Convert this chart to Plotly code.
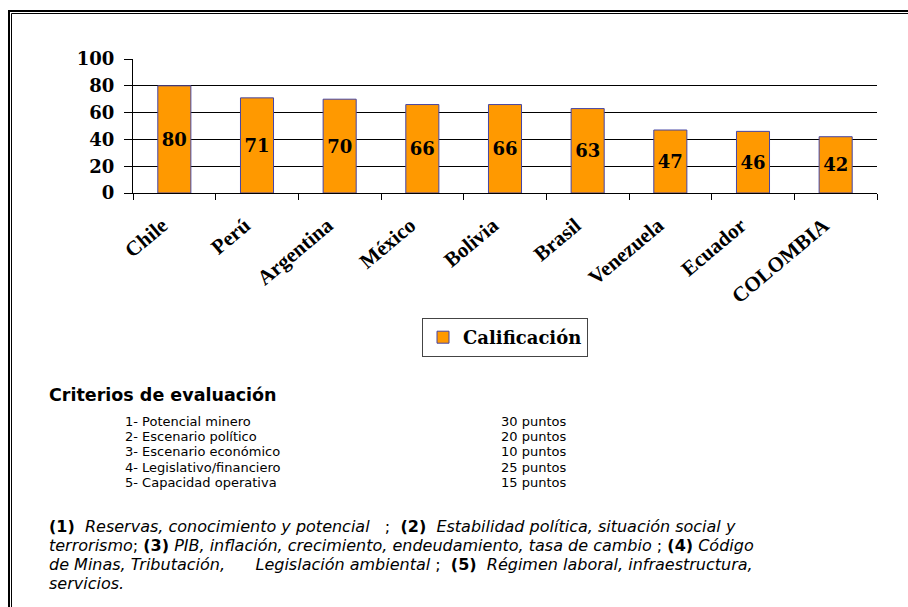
import plotly.graph_objects as go

# Country scores
paises = ["Chile", "Perú", "Argentina", "México", "Bolivia", "Brasil",
          "Venezuela", "Ecuador", "COLOMBIA"]
calificacion = [80, 71, 70, 66, 66, 63, 47, 46, 42]
y_ticks = [0, 20, 40, 60, 80, 100]

# Evaluation criteria and their weights
criterios = ["1- Potencial minero", "2- Escenario político", "3- Escenario económico",
             "4- Legislativo/financiero", "5- Capacidad operativa"]
puntos = ["30 puntos", "20 puntos", "10 puntos", "25 puntos", "15 puntos"]

NB = "\u00a0"
notas = [
    "<b>(1)</b>" + NB * 2 + "<i>Reservas, conocimiento y potencial</i>" + NB * 3 + ";" + NB * 2
    + "<b>(2)</b>" + NB * 2 + "<i>Estabilidad política, situación social y</i>",
    "<i>terrorismo</i>;" + NB + "<b>(3)</b>" + NB + "<i>PIB, inflación, crecimiento, endeudamiento, tasa de cambio</i>"
    + NB + ";" + NB + "<b>(4)</b>" + NB + "<i>Código</i>",
    "<i>de Minas, Tributación," + NB * 6 + "Legislación ambiental</i>" + NB + ";" + NB * 2
    + "<b>(5)</b>" + NB * 2 + "<i>Régimen laboral, infraestructura,</i>",
    "<i>servicios.</i>",
]

W, H = 908, 607
L, R, T, B = 133, 877, 59, 193  # plot area in pixels


def px(x):
    return (x - L) / (R - L)


def py(y):
    return (B - y) / (B - T)


def block(lines, size):
    # multi-line text: glyph size set per line, line pitch set by the base font
    return "<br>".join('<span style="font-size:%spx">%s</span>' % (size, s) for s in lines)


fig = go.Figure()
fig.add_trace(go.Bar(
    x=paises, y=calificacion, name="Calificación",
    marker=dict(color="#FF9900", line=dict(color="#4545A5", width=1)),
    texttemplate="%{y}", textposition="inside", insidetextanchor="middle",
    textangle=0,
    textfont=dict(family="DejaVu Serif", size=18, color="black", weight="bold"),
))

shapes = []
# Double frame around the whole sheet
shapes.append(dict(type="line", xref="paper", yref="paper", x0=px(8), x1=px(W + 5),
                   y0=py(11), y1=py(11), line=dict(color="black", width=2)))
shapes.append(dict(type="line", xref="paper", yref="paper", x0=px(11.5), x1=px(W + 5),
                   y0=py(13.5), y1=py(13.5), line=dict(color="black", width=1)))
shapes.append(dict(type="line", xref="paper", yref="paper", x0=px(9), x1=px(9),
                   y0=py(10), y1=py(H + 5), line=dict(color="black", width=2)))
shapes.append(dict(type="line", xref="paper", yref="paper", x0=px(11.5), x1=px(11.5),
                   y0=py(13.5), y1=py(H + 5), line=dict(color="black", width=1)))

SANS = "DejaVu Sans"
annotations = [
    dict(xref="paper", yref="paper", x=px(47), y=py(395),
         xanchor="left", yanchor="middle", showarrow=False,
         text="<b>Criterios de evaluación</b>",
         font=dict(family=SANS, size=17.5, color="black")),
    dict(xref="paper", yref="paper", x=px(123), y=py(452),
         xanchor="left", yanchor="middle", showarrow=False, align="left",
         text=block(criterios, 13), font=dict(family=SANS, size=11.7, color="black")),
    dict(xref="paper", yref="paper", x=px(499), y=py(452),
         xanchor="left", yanchor="middle", showarrow=False, align="left",
         text=block(puntos, 13), font=dict(family=SANS, size=11.7, color="black")),
    dict(xref="paper", yref="paper", x=px(47), y=py(555),
         xanchor="left", yanchor="middle", showarrow=False, align="left",
         text=block(notas, 16), font=dict(family=SANS, size=14.6, color="black")),
]

fig.update_layout(
    width=W, height=H,
    margin=dict(l=L, r=W - R, t=T, b=H - B, pad=0),
    paper_bgcolor="white", plot_bgcolor="white",
    bargap=0.6,
    showlegend=True,
    legend=dict(x=0.5, xanchor="center", y=py(318), yanchor="top",
                orientation="h", bordercolor="#444", borderwidth=1,
                bgcolor="white", itemwidth=30,
                font=dict(family="DejaVu Serif", size=18, color="black", weight="bold")),
    uniformtext=dict(minsize=18, mode="show"),
    shapes=shapes,
    annotations=annotations,
)
fig.update_xaxes(
    tickvals=paises, ticktext=[p + NB * 3 for p in paises],
    showline=True, linecolor="black", linewidth=1,
    ticks="outside", tickson="boundaries", ticklen=6, tickcolor="black",
    tickangle=-40, ticklabelstandoff=1,
    tickfont=dict(family="Liberation Serif", size=21, color="black", weight="bold"),
    showgrid=False,
)
fig.update_yaxes(
    range=[0, 100], tickvals=y_ticks,
    showline=True, linecolor="black", linewidth=1,
    ticks="outside", ticklen=8, tickcolor="black", ticklabelstandoff=6,
    showgrid=True, gridcolor="black", gridwidth=1, zeroline=False,
    tickfont=dict(family="DejaVu Serif", size=18, color="black", weight="bold"),
)

fig.write_html("out.html")
